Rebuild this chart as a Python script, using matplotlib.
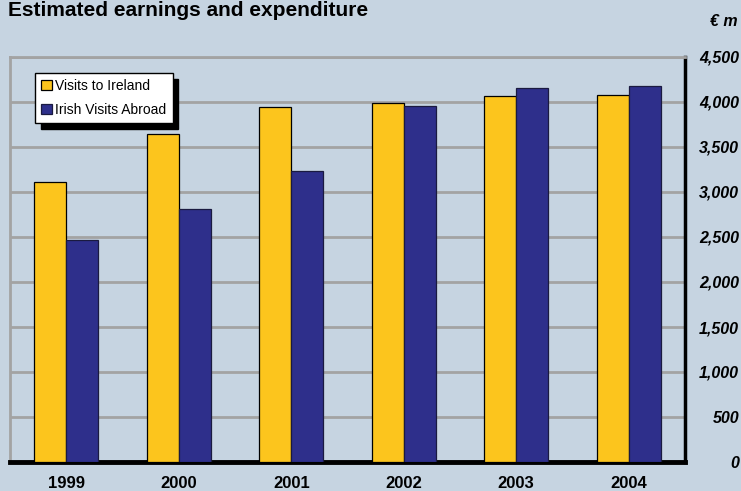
import matplotlib.pyplot as plt
import numpy as np

# Data (EUR million)
years = ["1999", "2000", "2001", "2002", "2003", "2004"]
visits_to_ireland = [3110, 3645, 3945, 3990, 4065, 4075]
irish_visits_abroad = [2465, 2810, 3230, 3955, 4155, 4175]
y_ticks = [0, 500, 1000, 1500, 2000, 2500, 3000, 3500, 4000, 4500]

bg = "#C6D4E1"
yellow = "#FCC51D"
blue = "#2E2F8B"

plt.rcParams["font.family"] = ["Liberation Sans", "DejaVu Sans"]

fig = plt.figure(figsize=(7.41, 4.91), dpi=100, facecolor=bg)
ax = fig.add_axes([10 / 741, 29 / 491, 675 / 741, 405 / 491])
ax.set_facecolor(bg)

x = np.arange(len(years))
w = 0.285
ax.bar(x - w / 2, visits_to_ireland, w, color=yellow, edgecolor="black",
       linewidth=0.9, zorder=3, label="Visits to Ireland")
ax.bar(x + w / 2, irish_visits_abroad, w, color=blue, edgecolor="#1a1a40",
       linewidth=0.9, zorder=3, label="Irish Visits Abroad")

ax.set_xlim(-0.5, len(years) - 0.5)
ax.set_ylim(0, 4500)

# gridlines
ax.set_yticks(y_ticks)
ax.grid(axis="y", color="#A3A3A3", linewidth=2, zorder=0)
ax.grid(axis="x", visible=False)

# spines
ax.spines["top"].set_color("#A3A3A3")
ax.spines["top"].set_linewidth(2)
ax.spines["left"].set_color("#A3A3A3")
ax.spines["left"].set_linewidth(2)
ax.spines["right"].set_color("black")
ax.spines["right"].set_linewidth(2.5)
ax.spines["bottom"].set_color("black")
ax.spines["bottom"].set_linewidth(3.5)

# y tick labels on the right, right-aligned near the figure edge
ax.yaxis.tick_right()
ax.tick_params(axis="y", length=0, pad=39)
ax.set_yticklabels([f"{v:,}" for v in y_ticks], fontsize=11.5,
                   fontweight="bold", fontstyle="italic", ha="right")

ax.set_xticks(x)
ax.set_xticklabels(years, fontsize=12, fontweight="bold")
ax.tick_params(axis="x", length=0, pad=10)

# legend with drop shadow
leg = ax.legend(loc="upper left", bbox_to_anchor=(25 / 675, 1 - 16 / 405),
                frameon=True, fancybox=False,
                shadow={"color": "black", "alpha": 1, "ox": 4, "oy": -4},
                fontsize=10, handlelength=0.75, handleheight=0.75,
                handletextpad=0.25, borderpad=0.45, labelspacing=0.7,
                borderaxespad=0)
leg.get_frame().set_edgecolor("black")
leg.get_frame().set_linewidth(1)
leg.get_frame().set_facecolor("white")

fig.text(8 / 741, 1 - 1 / 491, "Estimated earnings and expenditure",
         fontsize=15, fontweight="bold", va="top", ha="left")
fig.text(738 / 741, 1 - 21 / 491, "€ m", fontsize=11.5, fontweight="bold",
         fontstyle="italic", va="center", ha="right")

fig.savefig("out.png", dpi=100, facecolor=bg)
